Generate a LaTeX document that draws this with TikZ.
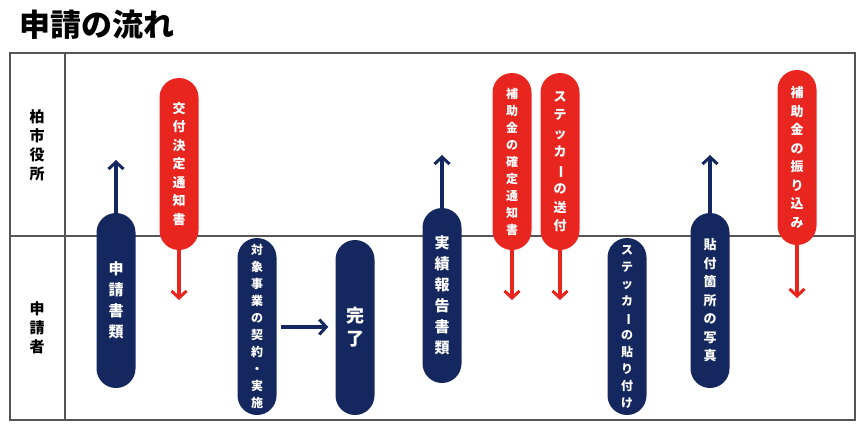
\documentclass[tikz,border=0pt]{standalone}
\usepackage{fontspec}
\setmainfont{Noto Sans CJK JP}
\usetikzlibrary{arrows.meta}
\definecolor{navy}{HTML}{14285F}
\definecolor{rd}{HTML}{E8251F}
\definecolor{ln}{HTML}{555555}
\newcommand{\vb}{\rotatebox[origin=c]{-90}{ー}}
\tikzset{
 pill/.style={rounded corners=19.5pt,minimum width=39pt,text width=39pt,align=center,inner sep=0pt,text=white,font=\bfseries\fontsize{15}{21}\selectfont},
 small/.style={font=\bfseries\fontsize{12}{17}\selectfont},
 mid/.style={font=\bfseries\fontsize{13}{18.5}\selectfont},
 np/.style={pill,fill=navy},
 rp/.style={pill,fill=rd},
 na/.style={navy,line width=3.2pt,-{Straight Barb[length=7pt,width=15pt,line width=3pt]}},
 ra/.style={rd,line width=3.2pt,-{Straight Barb[length=7pt,width=15pt,line width=3pt]}},
 lab/.style={font=\bfseries\fontsize{15}{19}\selectfont,align=center,text width=20pt}
}
\begin{document}
\begin{tikzpicture}[x=1pt,y=-1pt]
\useasboundingbox (0,0) rectangle (860,424);
\node[anchor=west,font=\bfseries\fontsize{31}{33}\selectfont] (title) at (16,25) {申請の流れ};
\draw[ln,line width=1.3pt] (10,53) rectangle (855,420);
\draw[ln,line width=1.3pt] (65,53) -- (65,420);
\draw[ln,line width=1.3pt] (10,236) -- (855,236);
\node[lab] (l1) at (37,145) {柏\\市\\役\\所};
\node[lab] (l2) at (37,328) {申\\請\\者};
% navy
\node[np,minimum height=175pt] (a) at (116,300.5) {申\\請\\書\\類};
\node[np,small,minimum height=177pt] (b) at (257,326.5) {対\\象\\事\\業\\の\\契\\約\\・\\実\\施};
\node[np,font=\bfseries\fontsize{18}{23}\selectfont,minimum height=175pt] (c) at (355,327.5) {完\\了};
\node[np,minimum height=175pt] (d) at (442,295.5) {実\\績\\報\\告\\書\\類};
\node[np,small,minimum height=177pt] (e) at (627,326.5) {ス\\テ\\ッ\\カ\\\vb\\の\\貼\\り\\付\\け};
\node[np,mid,minimum height=175pt] (f) at (710,300.5) {貼\\付\\箇\\所\\の\\写\\真};
% red
\node[rp,mid,minimum height=172pt] (g) at (179,164) {交\\付\\決\\定\\通\\知\\書};
\node[rp,small,minimum height=177pt] (h) at (512,161.5) {補\\助\\金\\の\\確\\定\\通\\知\\書};
\node[rp,mid,minimum height=177pt] (i) at (560,161.5) {ス\\テ\\ッ\\カ\\\vb\\の\\送\\付};
\node[rp,mid,minimum height=175pt] (j) at (797,157.5) {補\\助\\金\\の\\振\\り\\込\\み};
\coordinate (au) at (116,160); \coordinate (du) at (442,155); \coordinate (fu) at (710,155);
\coordinate (gd) at (179,300); \coordinate (hd) at (512,300); \coordinate (id) at (560,300); \coordinate (jd) at (797,298);
\draw[na] (a.north) -- (au);
\draw[na] (d.north) -- (du);
\draw[na] (f.north) -- (fu);
\draw[na] ([xshift=4pt]b.east|-0,327) -- ([xshift=-7pt]c.west|-0,327);
\draw[ra] (g.south) -- (gd);
\draw[ra] (h.south) -- (hd);
\draw[ra] (i.south) -- (id);
\draw[ra] (j.south) -- (jd);
\end{tikzpicture}
\end{document}
